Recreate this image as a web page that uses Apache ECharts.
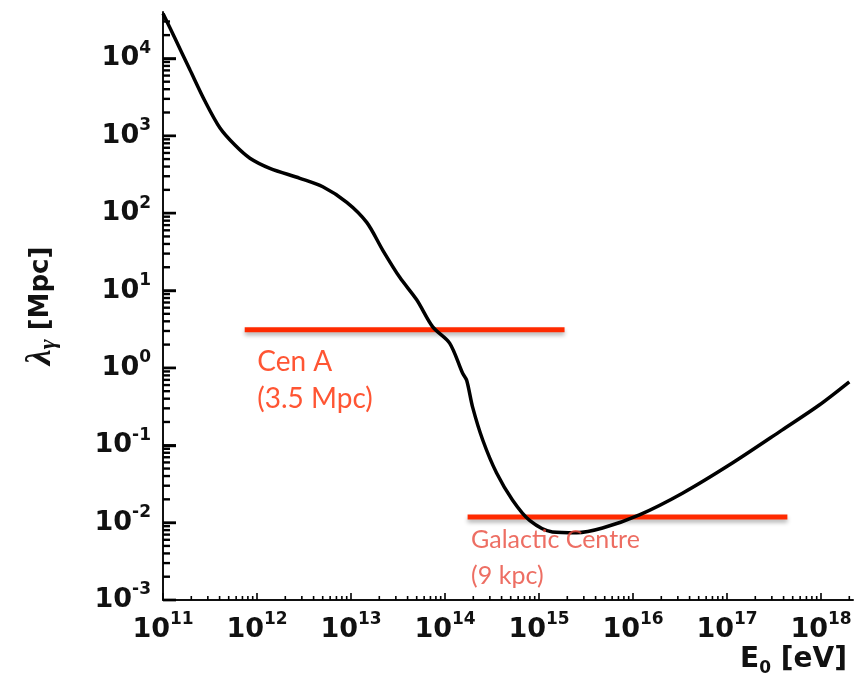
<!DOCTYPE html>
<html>
<head>
<meta charset="utf-8">
<script src="https://cdn.jsdelivr.net/npm/echarts@6/dist/echarts.min.js"></script>
<style>
  html, body { margin: 0; padding: 0; background: #fff; }
  #chart { width: 864px; height: 678px; }
</style>
</head>
<body>
<div id="chart"></div>
<script>
// photon energy E0 [eV] and attenuation length lambda [Mpc]
const energy = [1.0e11, 1.34e11, 1.94e11, 2.79e11, 4.04e11, 5.82e11, 8.41e11, 1.37e12, 2.86e12,
  5.01e12, 9.02e12, 1.47e13, 2.18e13, 3.3e13, 5.0e13, 7.4e13, 1.12e14, 1.54e14, 1.7e14,
  1.97e14, 2.52e14, 3.54e14, 5.24e14, 7.94e14, 1.39e15, 2.51e15, 4.74e15, 1.17e16,
  3.36e16, 1.14e17, 3.88e17, 9.59e17, 2.0e18];
const lambda = [38000, 18200, 7080, 2820, 1260, 759, 513, 380, 282,
  219, 138, 75.9, 33.1, 14.8, 7.59, 3.39, 2.09, 0.851, 0.692,
  0.309, 0.117, 0.0437, 0.0195, 0.0107, 0.00759, 0.00741, 0.00851, 0.0126,
  0.024, 0.0589, 0.158, 0.331, 0.66];

// reference distances (horizontal red bars)
const cenA = { from: 7.4e11, to: 1.87e15, dist: 3.1, text: ["Cen A", "(3.5 Mpc)"] };
const galCentre = { from: 1.74e14, to: 4.39e17, dist: 0.0118, text: ["Galactic Centre", "(9 kpc)"] };

const xMin = 1e11, xMax = 2.19e18;
const yMin = 1e-3, yMax = 39800;
const xDecades = [11, 12, 13, 14, 15, 16, 17, 18];
const yDecades = [-3, -2, -1, 0, 1, 2, 3, 4];

// log ticks: majors at decades, minors at 2..9
function logTicks(decades, lo, hi) {
  const out = [];
  decades.forEach(function (n) {
    for (let k = 1; k <= 9; k++) {
      const v = k * Math.pow(10, n);
      if (v >= lo * 0.999 && v <= hi) out.push({ v: v, major: k === 1 });
    }
  });
  return out;
}
const xTickData = logTicks(xDecades, xMin, xMax).map(function (t) {
  const len = t.major ? 7 : 4;
  return { value: [t.v, yMin], symbolSize: [1.6, len], symbolOffset: [0, -len / 2] };
});
const yTickData = logTicks(yDecades, yMin, yMax).map(function (t) {
  const len = t.major ? 13 : 7;
  return { value: [xMin, t.v], symbolSize: [len, 2.4], symbolOffset: [len / 2, 0] };
});

function powLabel(v) {
  const e = Math.log10(v);
  const r = Math.round(e);
  if (Math.abs(e - r) > 1e-6) return "";
  return "{b|10}{s|" + r + "}";
}
const labelRich = {
  b: { fontFamily: "DejaVu Sans", fontWeight: "bold", fontSize: 27, color: "#111" },
  s: { fontFamily: "DejaVu Sans", fontWeight: "bold", fontSize: 17, color: "#111", padding: [0, 0, 20, 0] }
};

const curve = energy.map(function (e, i) { return [e, lambda[i]]; });

function bar(d) {
  return {
    type: "line",
    data: [[d.from, d.dist], [d.to, d.dist]],
    symbol: "none",
    z: 2,
    silent: true,
    lineStyle: { color: "#ff2a00", width: 5, shadowColor: "rgba(0,0,0,0.3)", shadowBlur: 4, shadowOffsetY: 3 }
  };
}
function barLabel(d, color, size, lh, dx, dy) {
  return {
    type: "scatter",
    data: [[d.from, d.dist]],
    symbolSize: 1,
    itemStyle: { color: "rgba(0,0,0,0)" },
    silent: true,
    z: 5,
    label: {
      show: true,
      position: [0, 0],
      align: "left",
      verticalAlign: "top",
      offset: [dx, dy],
      formatter: d.text.join("\n"),
      fontFamily: "Lato",
      fontSize: size,
      lineHeight: lh,
      color: color
    }
  };
}
function tickSeries(data) {
  return {
    type: "scatter",
    data: data,
    symbol: "rect",
    silent: true,
    clip: false,
    z: 10,
    itemStyle: { color: "#000", opacity: 1 }
  };
}

const chart = echarts.init(document.getElementById("chart"));
chart.setOption({
  backgroundColor: "#fff",
  animation: false,
  grid: { left: 163, right: 11, top: 12, bottom: 78 },
  xAxis: {
    type: "log",
    logBase: 10,
    min: xMin,
    max: xMax,
    axisLine: { lineStyle: { color: "#111", width: 2 } },
    axisTick: { show: false },
    splitLine: { show: false },
    axisLabel: { formatter: powLabel, rich: labelRich, margin: 11, showMaxLabel: false },
    name: "{e|E}{z|0}{u| [eV]}",
    nameLocation: "end",
    nameGap: -6,
    nameTextStyle: {
      align: "right",
      verticalAlign: "top",
      padding: [42, 0, 0, 0],
      rich: {
        e: { fontFamily: "DejaVu Sans", fontWeight: "bold", fontSize: 28, color: "#111" },
        z: { fontFamily: "DejaVu Sans", fontWeight: "bold", fontSize: 17, color: "#111", padding: [18, 0, 0, 0] },
        u: { fontFamily: "DejaVu Sans", fontWeight: "bold", fontSize: 28, color: "#111" }
      }
    }
  },
  yAxis: {
    type: "log",
    logBase: 10,
    min: yMin,
    max: yMax,
    axisLine: { lineStyle: { color: "#111", width: 2 } },
    axisTick: { show: true, inside: true, length: 13, lineStyle: { color: "#000", width: 2.4 } },
    splitLine: { show: false },
    axisLabel: { formatter: powLabel, rich: labelRich, margin: 12, showMaxLabel: false },
    name: "{l|λ}{g|γ}{m| [Mpc]}",
    nameLocation: "middle",
    nameGap: 102,
    nameTextStyle: {
      fontSize: 26,
      fontWeight: "bold",
      rich: {
        l: { fontFamily: "Liberation Serif", fontStyle: "italic", fontSize: 36, color: "#111" },
        g: { fontFamily: "Liberation Serif", fontStyle: "italic", fontSize: 24, color: "#111", padding: [16, 0, 0, 0] },
        m: { fontFamily: "DejaVu Sans", fontWeight: "bold", fontSize: 26, color: "#111" }
      }
    }
  },
  series: [
    bar(cenA),
    bar(galCentre),
    {
      type: "line",
      data: curve,
      smooth: 0.3,
      symbol: "none",
      z: 3,
      silent: true,
      lineStyle: { color: "#000", width: 3.5 }
    },
    barLabel(cenA, "#ff2a00", 28, 37, 13, 14),
    barLabel(galCentre, "#e84a3c", 25, 36, 4, 5),
    tickSeries(xTickData),
    tickSeries(yTickData)
  ]
});
</script>
</body>
</html>
